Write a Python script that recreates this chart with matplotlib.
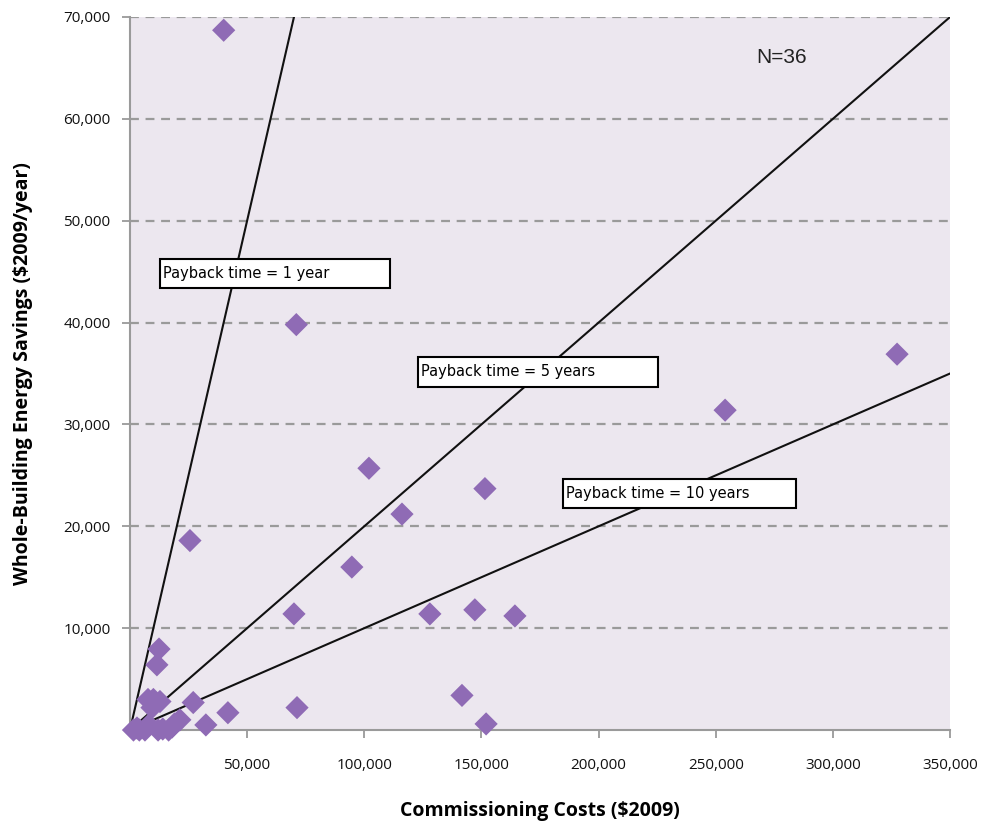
import numpy as np
import matplotlib.pyplot as plt
from matplotlib.patches import Rectangle
from matplotlib.ticker import FuncFormatter

# Commissioning cost ($2009) vs whole-building savings ($2009/year)
costs = [40000, 71000, 327400, 254000, 102000, 151500, 116100, 25600, 94700,
         70000, 128000, 147200, 164300, 12400, 11500, 7700, 12800, 9400,
         27000, 41800, 32400, 21300, 18000, 12000, 6400, 1500, 16500, 71300,
         141700, 152000, 3000, 8000, 19000, 10000, 4000, 14000]
savings = [68700, 39800, 36900, 31400, 25700, 23700, 21200, 18600, 16000,
           11400, 11400, 11800, 11200, 7950, 6400, 3000, 2800, 2200,
           2700, 1700, 500, 1000, 300, 0, 0, 0, 0, 2200,
           3400, 600, 200, 500, 600, 3000, 0, 100]

payback_years = [1, 5, 10]
payback_labels = ['Payback time = 1 year', 'Payback time = 5 years',
                  'Payback time = 10 years']
x_ticks = [50000, 100000, 150000, 200000, 250000, 300000, 350000]
y_ticks = [10000, 20000, 30000, 40000, 50000, 60000, 70000]

fig = plt.figure(figsize=(9.89, 8.21), dpi=100)
ax = fig.add_axes([0.1314, 0.1108, 0.8292, 0.8685])
ax.set_facecolor('#ECE7EF')

ax.set_xlim(0, 350000)
ax.set_ylim(0, 70000)

for y in y_ticks:
    ax.axhline(y, color='#9A9A9A', lw=1.6, ls=(0, (4, 3)), zorder=1)

# payback lines  y = x / years
for yrs in payback_years:
    xe = min(350000, 70000 * yrs)
    ax.plot([0, xe], [0, xe / yrs], color='#111111', lw=1.5, zorder=3)

ax.scatter(costs, savings, marker='D', s=140, color='#8F6BB5',
           edgecolors='none', zorder=4, clip_on=False)

# label boxes (left x, center y, width in data units)
boxes = [(12800, 44800, 98000), (122900, 35150, 102500), (184800, 23200, 99500)]
for (bx, by, bw), lab in zip(boxes, payback_labels):
    h = 2900
    ax.add_patch(Rectangle((bx, by - h / 2), bw, h, facecolor='white',
                           edgecolor='black', lw=1.5, zorder=5))
    ax.text(bx + 1500, by, lab, fontsize=10.5, family='DejaVu Sans',
            va='center', ha='left', zorder=6)

ax.text(278000, 66000, 'N=36', fontsize=15, family='Liberation Sans',
        va='center', ha='center', color='#222222')

for s in ['top', 'right']:
    ax.spines[s].set_visible(False)
for s in ['left', 'bottom']:
    ax.spines[s].set_color('#9A9A9A')
    ax.spines[s].set_linewidth(1.5)

fmt = FuncFormatter(lambda v, p: '{:,.0f}'.format(v))
ax.set_xticks(x_ticks)
ax.set_yticks(y_ticks)
ax.xaxis.set_major_formatter(fmt)
ax.yaxis.set_major_formatter(fmt)
ax.tick_params(axis='both', colors='#9A9A9A', length=6, width=1.3,
               labelcolor='#111111', labelsize=11)
for lab in ax.get_xticklabels() + ax.get_yticklabels():
    lab.set_family('Open Sans')
ax.tick_params(axis='x', pad=14)
ax.tick_params(axis='y', pad=8)

ax.set_xlabel('Commissioning Costs ($2009)', fontsize=14, fontweight='bold',
              family='Open Sans', labelpad=20)
ax.set_ylabel('Whole-Building Energy Savings ($2009/year)', fontsize=14,
              fontweight='bold', family='Open Sans', labelpad=22)

fig.savefig('out.png', dpi=100)
